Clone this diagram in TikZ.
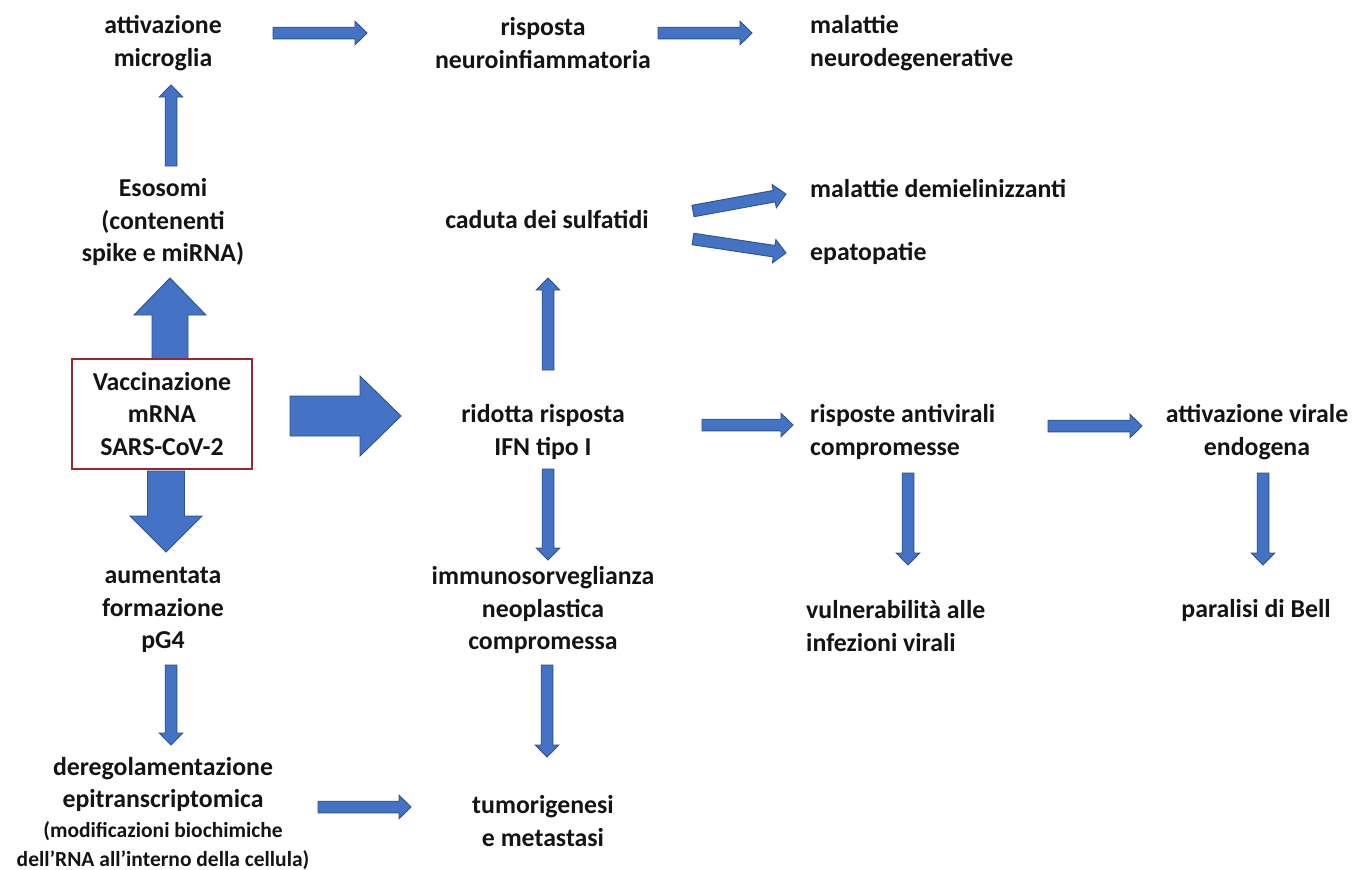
\documentclass[tikz,border=0pt]{standalone}
\usepackage{fontspec}
\setmainfont{Carlito}
\usetikzlibrary{calc}
\definecolor{ablue}{RGB}{68,114,196}
\definecolor{aedge}{RGB}{47,82,143}
\definecolor{boxred}{RGB}{150,40,50}
\definecolor{txt}{RGB}{20,20,20}
% #1 start, #2 end, #3 shaft half width, #4 head half width, #5 head length
\newcommand\blockarrow[5]{%
  \coordinate (ba-c) at ($(#2)!#5!(#1)$);
  \draw[barrow] ($(#1)!#3!90:(#2)$) -- ($(ba-c)!#3!90:(#2)$) -- ($(ba-c)!#4!90:(#2)$)
    -- (#2) -- ($(ba-c)!#4!-90:(#2)$) -- ($(ba-c)!#3!-90:(#2)$) -- ($(#1)!#3!-90:(#2)$) -- cycle;
}
\newcommand\smallarrow[2]{\blockarrow{#1}{#2}{5.8pt}{11.8pt}{12pt}}
\begin{document}
\begin{tikzpicture}[x=1pt,y=-1pt,
  barrow/.style={fill=ablue,draw=aedge,line width=0.9pt,line join=miter},
  lbl/.style={font=\fontsize{25.8}{32.5}\selectfont\bfseries,align=center,inner sep=0pt,text=txt},
  lblL/.style={lbl,align=left,anchor=west},
  vbox/.style={lbl,draw=boxred,line width=1.1pt,minimum width=180pt,minimum height=110pt,fill=white}]
\useasboundingbox[fill=white] (0,0) rectangle (1368,870);

% nodes
\node[lbl] (micro) at (163,43) {attivazione\\microglia};
\node[lbl] (esos) at (163,222) {Esosomi\\(contenenti\\spike e miRNA)};
\node[lbl] (pg4) at (163,610) {aumentata\\formazione\\pG4};
\node[lbl,anchor=north] (dereg) at (163,757) {deregolamentazione\\epitranscriptomica\\[-3pt]
  {\fontsize{21.5}{27}\selectfont (modificazioni biochimiche}\\[-3.5pt]
  {\fontsize{21.5}{27}\selectfont dell’RNA all’interno della cellula)}};
\node[lbl] (neuro) at (543,43) {risposta\\neuroinfiammatoria};
\node[lblL] (neurodeg) at (810,43) {malattie\\neurodegenerative};
\node[lbl] (sulf) at (547,220) {caduta dei sulfatidi};
\node[lblL] (demiel) at (810,189) {malattie demielinizzanti};
\node[lblL] (epato) at (810,253) {epatopatie};
\node[lbl] (ifn) at (543,432) {ridotta risposta\\IFN tipo I};
\node[lbl] (immuno) at (543,610) {immunosorveglianza\\neoplastica\\compromessa};
\node[lbl] (tumor) at (543,821) {tumorigenesi\\e metastasi};
\node[lblL] (antivir) at (810,432) {risposte antivirali\\compromesse};
\node[lblL] (vulner) at (806,626) {vulnerabilità alle\\infezioni virali};
\node[lbl] (endog) at (1257,432) {attivazione virale\\endogena};
\node[lbl] (bell) at (1256,610) {paralisi di Bell};

% arrow end coordinates
\coordinate (a1s) at (273,33);  \coordinate (a1e) at (367,33);
\coordinate (a2s) at (658,33);  \coordinate (a2e) at (752,33);
\coordinate (a3s) at (171,166); \coordinate (a3e) at (171,85);
\coordinate (a4s) at (170,362); \coordinate (a4e) at (170,278);
\coordinate (a5s) at (166,471); \coordinate (a5e) at (166,552);
\coordinate (a6s) at (290,416); \coordinate (a6e) at (401,416);
\coordinate (a7s) at (171,665); \coordinate (a7e) at (171,745);
\coordinate (a8s) at (318,807); \coordinate (a8e) at (411,807);
\coordinate (a9s) at (548,370); \coordinate (a9e) at (548,278);
\coordinate (a10s) at (693,211); \coordinate (a10e) at (786,194);
\coordinate (a11s) at (693,239); \coordinate (a11e) at (786,253);
\coordinate (a12s) at (548,469); \coordinate (a12e) at (548,560);
\coordinate (a13s) at (547,665); \coordinate (a13e) at (547,757);
\coordinate (a14s) at (702,425); \coordinate (a14e) at (793,425);
\coordinate (a15s) at (908,473); \coordinate (a15e) at (908,565);
\coordinate (a16s) at (1048,426); \coordinate (a16e) at (1142,426);
\coordinate (a17s) at (1263,473); \coordinate (a17e) at (1263,565);

% arrows
\smallarrow{a1s}{a1e}
\smallarrow{a2s}{a2e}
\smallarrow{a3s}{a3e}
\blockarrow{a4s}{a4e}{18pt}{36pt}{37pt}
\blockarrow{a5s}{a5e}{18.5pt}{36pt}{36pt}
\blockarrow{a6s}{a6e}{20pt}{40pt}{41pt}
\smallarrow{a7s}{a7e}
\smallarrow{a8s}{a8e}
\smallarrow{a9s}{a9e}
\smallarrow{a10s}{a10e}
\smallarrow{a11s}{a11e}
\smallarrow{a12s}{a12e}
\smallarrow{a13s}{a13e}
\smallarrow{a14s}{a14e}
\smallarrow{a15s}{a15e}
\smallarrow{a16s}{a16e}
\smallarrow{a17s}{a17e}

% main box drawn over the big arrows' tails
\node[vbox] (vacc) at (162,414) {Vaccinazione\\mRNA\\SARS-CoV-2};
\end{tikzpicture}
\end{document}
